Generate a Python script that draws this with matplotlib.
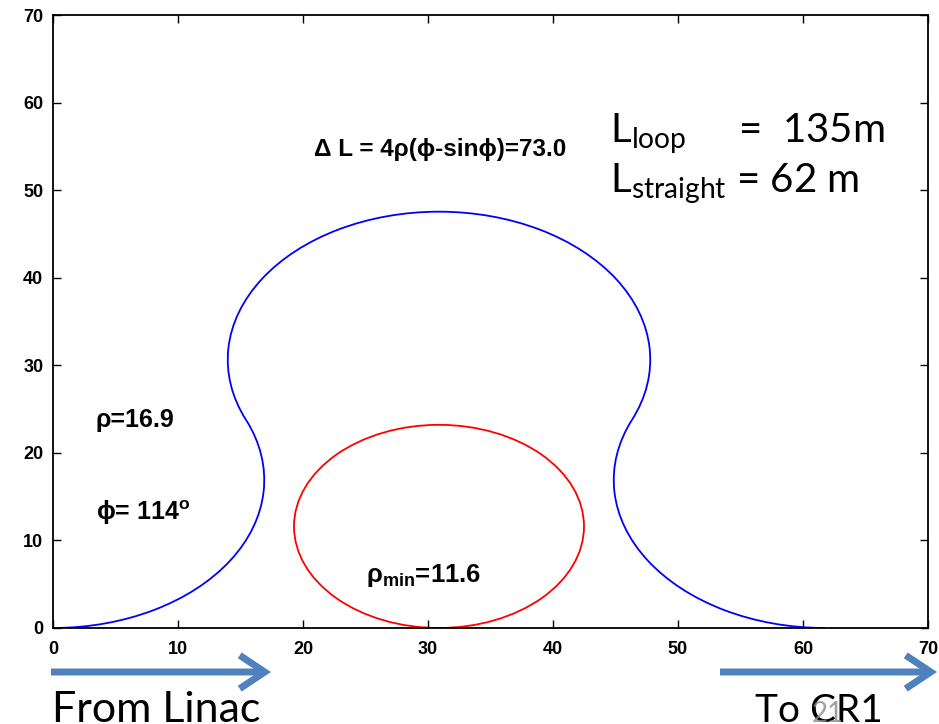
import matplotlib
matplotlib.use("Agg")
import matplotlib.pyplot as plt
from matplotlib.patches import Arc, Circle, FancyArrowPatch

# ---- data ----
rho = 16.9
phi_deg = 114
rho_min = 11.6
# blue orbit: three circular arcs (centre x, centre y, radius, start angle, end angle)
arc_cx = [0.0, 30.88, 61.76]
arc_cy = [16.9, 30.64, 16.9]
arc_r = [16.9, 16.9, 16.9]
arc_t1 = [-90, -24, 156]
arc_t2 = [24, 204, 270]
# red orbit: circle
circ_cx = 30.88
circ_cy = 11.6
circ_r = 11.6

xticks = [0, 10, 20, 30, 40, 50, 60, 70]
yticks = [0, 10, 20, 30, 40, 50, 60, 70]

W, H = 939, 724
fig = plt.figure(figsize=(W / 100, H / 100), dpi=100)
sans = ['Liberation Sans', 'DejaVu Sans']
slide = ['Lato', 'DejaVu Sans']

ax = fig.add_axes([53 / W, 1 - 628 / H, 875 / W, 613 / H])
ax.set_xlim(0, 70)
ax.set_ylim(0, 70)
ax.set_xticks(xticks)
ax.set_yticks(yticks)
ax.set_xticklabels([str(v) for v in xticks], family=sans, fontsize=13, fontweight='bold')
ax.set_yticklabels([str(v) for v in yticks], family=sans, fontsize=13, fontweight='bold')
ax.tick_params(direction='in', length=6, width=1.0, top=True, right=True, pad=7,
               labeltop=False, labelright=False)
ax.tick_params(axis='x', pad=9)
for s in ax.spines.values():
    s.set_linewidth(1.3)

for cx, cy, r, t1, t2 in zip(arc_cx, arc_cy, arc_r, arc_t1, arc_t2):
    ax.add_patch(Arc((cx, cy), 2 * r, 2 * r, theta1=t1, theta2=t2,
                     color='#0000ff', lw=1.3))
ax.add_patch(Circle((circ_cx, circ_cy), circ_r, fill=False, ec='#ff0000', lw=1.3))

# annotations inside plot
ax.text(20.9, 53.9, 'Δ L = 4ρ(ϕ-sinϕ)=73.0', family=sans, fontsize=17.5,
        fontweight='bold', va='baseline')
ax.text(3.4, 22.9, f'ρ={rho}', family=sans, fontsize=18, fontweight='bold',
        va='baseline')
ax.text(3.4, 12.3, f'ϕ= {phi_deg}' + r'$^{\mathregular{o}}$', family=sans, fontsize=18,
        fontweight='bold', va='baseline')
ax.text(25.0, 5.2, r'ρ$_{\mathregular{min}}$=' + f'{rho_min}', family=sans, fontsize=18.5,
        fontweight='bold', va='baseline')

# slide texts
fig.text(610 / W, 1 - 142 / H, r'L$_{\mathregular{loop}}$     =  135m', family=slide,
         fontsize=29, va='baseline')
fig.text(610 / W, 1 - 192 / H, r'L$_{\mathregular{straight}}$ = 62 m', family=slide,
         fontsize=29, va='baseline')
fig.text(52 / W, 1 - 722 / H, 'From Linac', family=slide, fontsize=31, va='baseline')
fig.text(755 / W, 1 - 722 / H, 'To CR1', family=slide, fontsize=28, va='baseline')
fig.text(812 / W, 1 - 722 / H, '21', family=slide, fontsize=20, va='baseline',
         color='#8a8a8a', alpha=0.8)

arrow_col = '#4f81bd'
for x0, x1 in [(51, 271), (720, 937)]:
    fig.patches.append(FancyArrowPatch((x0 / W, 1 - 672 / H), (x1 / W, 1 - 672 / H),
                                       transform=fig.transFigure,
                                       arrowstyle='->,head_length=1.8,head_width=1.2',
                                       mutation_scale=10, lw=5, color=arrow_col,
                                       shrinkA=0, shrinkB=0, capstyle='butt',
                                       joinstyle='miter'))

fig.savefig('out.png', dpi=100)
